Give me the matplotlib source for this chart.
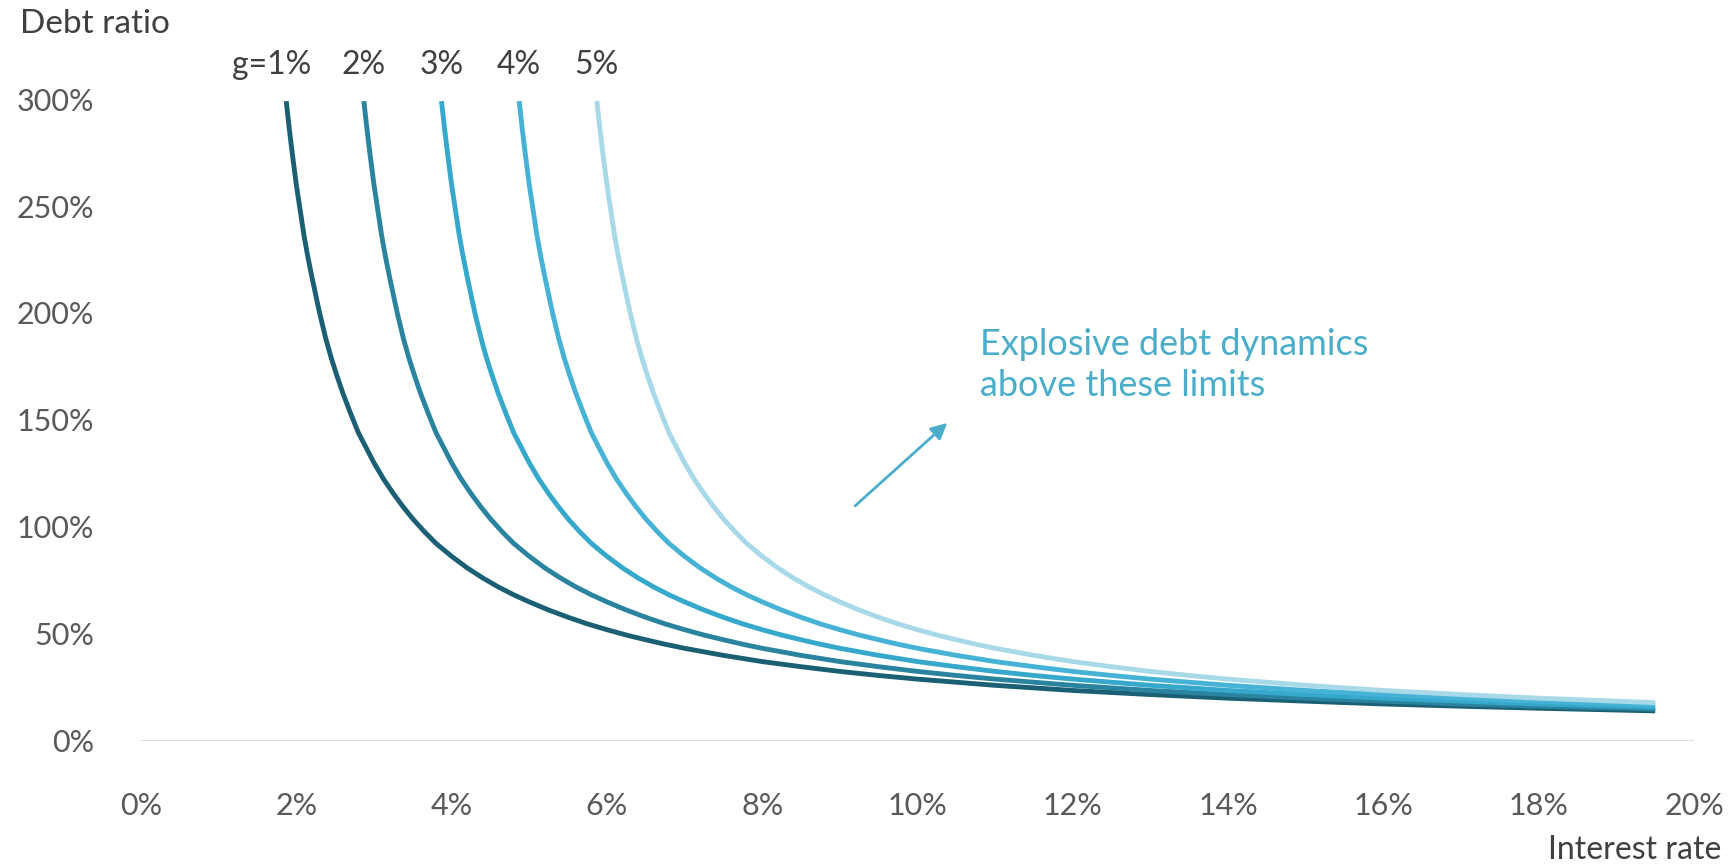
import matplotlib
matplotlib.use('Agg')
import matplotlib.pyplot as plt
from matplotlib.ticker import FuncFormatter

plt.rcParams['font.family'] = ['Lato', 'DejaVu Sans']

# growth rates (labels) and curve values
growth = [1, 2, 3, 4, 5]
labels = ['g=1%', '2%', '3%', '4%', '5%']
colors = ['#1b5f74', '#2a849f', '#35a8cc', '#46b3d6', '#a7d9e8']

# gap between interest rate and growth (pct points) at which values were read
gap = [0.87, 0.91, 0.95, 1.0, 1.05, 1.1, 1.15, 1.2, 1.3, 1.38, 1.45, 1.52,
       1.6, 1.7, 1.8, 1.9, 2.0, 2.12, 2.25, 2.37, 2.5, 2.65, 2.8, 3.0, 3.2,
       3.4, 3.6, 3.8, 4.0, 4.25, 4.5, 4.75, 5, 5.25, 5.5, 5.75, 6, 6.5, 7,
       7.5, 8, 8.5, 9, 10, 11, 12, 13, 14]
debt_common = [299, 286, 274, 260, 248, 236, 226, 217, 200, 188, 179, 171,
               162.5, 153, 144, 137, 130, 122.6, 115.6, 109.7, 103.8, 97.8,
               92.3, 86.3, 80.9, 76.2, 72, 68.3, 65, 61.2, 57.8, 54.7, 52,
               49.5, 47.3, 45.2, 43.3, 40, 37.1, 34.7, 32.5, 30.6, 28.9, 26,
               23.6, 21.7, 20, 18.6]

# tail of each curve out to 19.5% interest rate
tail_gap = {
    1: [15, 16, 17, 18.5],
    2: [15, 16, 17, 17.5],
    3: [15, 16, 16.5],
    4: [15, 15.5],
    5: [14.5],
}
tail_debt = {
    1: [17.3, 16.25, 15.3, 14.05],
    2: [17.3, 16.25, 15.3, 14.9],
    3: [17.3, 16.25, 15.8],
    4: [17.3, 16.8],
    5: [17.9],
}

fig = plt.figure(figsize=(17.3, 8.64), dpi=100)
ax = fig.add_axes([0.0815, 0.1424, 0.8977, 0.743])

for g, lab, c in zip(growth, labels, colors):
    r = [g + d for d in gap + tail_gap[g]]
    y = debt_common + tail_debt[g]
    ax.plot(r, y, color=c, lw=3.5, solid_capstyle='butt',
            solid_joinstyle='round', zorder=3)
    dx = -0.19 if lab.startswith('g=') else 0
    ax.text(g + 0.87 + dx, 309, lab, ha='center', va='bottom', fontsize=23,
            color='#404040')

ax.axhline(0, color='#d9d9d9', lw=2, zorder=1)

ax.set_xlim(0, 20)
ax.set_ylim(0, 300)
ax.set_xticks(range(0, 21, 2))
ax.set_yticks(range(0, 301, 50))
ax.xaxis.set_major_formatter(FuncFormatter(lambda v, p: f'{v:.0f}%'))
ax.yaxis.set_major_formatter(FuncFormatter(lambda v, p: f'{v:.0f}%'))
ax.tick_params(length=0, labelsize=22, labelcolor='#595959')
ax.tick_params(axis='x', pad=37)
ax.tick_params(axis='y', pad=34)
for s in ax.spines.values():
    s.set_visible(False)

fig.text(20 / 1730, 1 - 24 / 864, 'Debt ratio', ha='left', va='center',
         fontsize=24, color='#404040')
fig.text(1721 / 1730, 1 - 850 / 864, 'Interest rate', ha='right', va='center',
         fontsize=23, color='#404040')

ax.annotate('', xy=(10.41, 149.5), xytext=(9.17, 109),
            arrowprops=dict(arrowstyle='-|>', color='#4aaecb', lw=2,
                            mutation_scale=24))
ax.text(10.8, 175.5, 'Explosive debt dynamics\nabove these limits', ha='left',
        va='center', fontsize=26, color='#4aaecb', linespacing=1.3)

fig.savefig('out.png', dpi=100)
